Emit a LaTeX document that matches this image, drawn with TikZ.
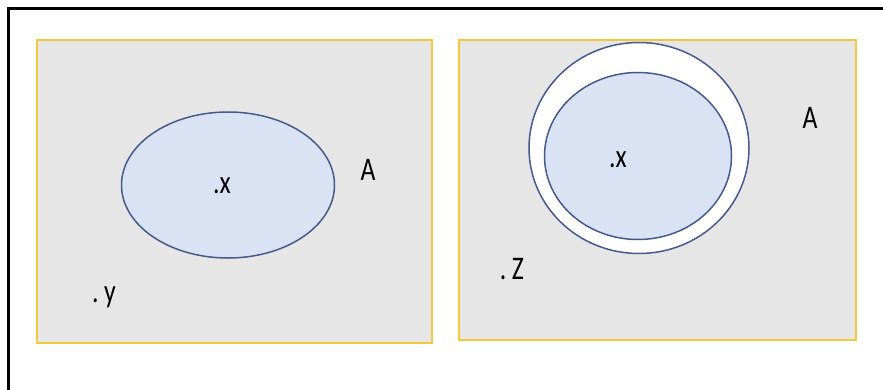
\documentclass[tikz,border=0pt]{standalone}
\usepackage{fontspec}
\setmainfont{Carlito}
\newfontfamily\lblfont[FakeStretch=0.78]{Carlito}
\usetikzlibrary{positioning,shapes.geometric}
\definecolor{panelgray}{RGB}{230,230,230}
\definecolor{panelgold}{RGB}{242,200,60}
\definecolor{setfill}{RGB}{218,227,243}
\definecolor{setline}{RGB}{70,90,140}
\tikzset{
  panel/.style={draw=panelgold, line width=2pt, fill=panelgray},
  setA/.style={ellipse, draw=setline, line width=1.5pt, fill=setfill, inner sep=0pt},
  ring/.style={ellipse, draw=setline, line width=1.5pt, fill=white, inner sep=0pt},
  lbl/.style={font=\lblfont\fontsize{33}{35}\selectfont, inner sep=0pt}
}
\begin{document}
\begin{tikzpicture}[x=1pt, y=-1pt]
  \useasboundingbox (0,0) rectangle (883,390);
  \fill[white] (0,0) rectangle (883,390);
  % frame
  \draw[line width=3pt] (883,9) -- (8,9) -- (8,390);
  % left panel
  \draw[panel] (37,40) rectangle (432,343);
  \node[setA, minimum width=213pt, minimum height=146pt] (X1) at (228,185) {};
  \node[lbl] (x1) at (222,186) {.x};
  \node[lbl] (A1) at (368,170) {A};
  \node[lbl] (y1) at (104,297) {.\,y};
  % right panel
  \draw[panel] (459,40) rectangle (856,340);
  \node[ring, minimum width=220pt, minimum height=211pt] (R2) at (639,148) {};
  \node[setA, minimum width=187pt, minimum height=167pt] (X2) at (638,156) {};
  \node[lbl] (x2) at (618,160) {.x};
  \node[lbl] (A2) at (810,118) {A};
  \node[lbl] (z2) at (512,269) {.\,Z};
\end{tikzpicture}
\end{document}
